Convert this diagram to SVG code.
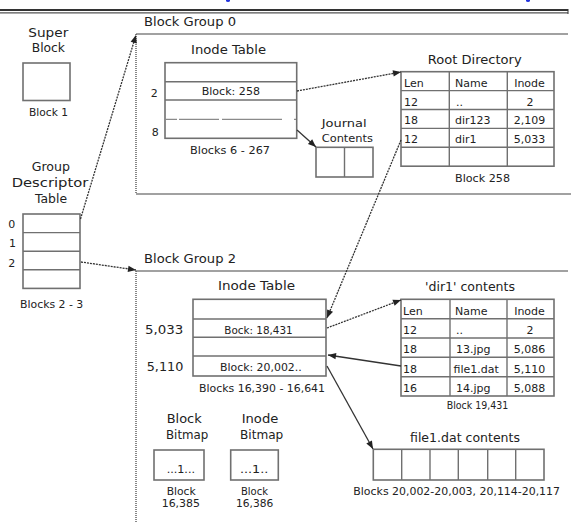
<svg xmlns="http://www.w3.org/2000/svg" width="571" height="522" viewBox="0 0 571 522">
<defs>
<marker id="ah" viewBox="0 0 10 10" refX="10" refY="5" markerWidth="9" markerHeight="8" markerUnits="userSpaceOnUse" orient="auto"><path d="M0,1 L10,5 L0,9 z" fill="#222"/></marker>
<style>
.t{font-family:"DejaVu Sans","Liberation Sans",sans-serif;fill:#222}
.s10{font-size:10px}
.s11{font-size:11px}
.s13{font-size:13px}
.m{text-anchor:middle}
.box{fill:#fff;stroke:#707070;stroke-width:1.6}
.grid{stroke:#707070;stroke-width:1.4;fill:none}
.frame{stroke:#444;stroke-width:1.2;fill:none}
.fl{stroke:#555;stroke-width:1.4;stroke-dasharray:1 1;fill:none}
.arr{stroke:#333;stroke-width:1.3;fill:none;marker-end:url(#ah)}
.dot{stroke-dasharray:2 1}
</style>
</defs>
<rect width="571" height="522" fill="#fff"/>
<g id="header">
<ellipse cx="228" cy="0.5" rx="2" ry="1.5" fill="#2233dd"/>
<ellipse cx="528" cy="0.5" rx="2" ry="1.5" fill="#2233dd"/>
<line x1="0" y1="10" x2="568" y2="10" stroke="#333" stroke-width="2"/>
<line x1="0" y1="12.8" x2="568" y2="12.8" stroke="#555" stroke-width="1.2"/>
<line x1="568" y1="9" x2="568" y2="14" stroke="#333" stroke-width="1"/>
</g>
<g id="super-block">
<text class="t s13" x="28.3" y="36.5" textLength="40" lengthAdjust="spacingAndGlyphs">Super</text>
<text class="t s13" x="31.7" y="52" textLength="33.3" lengthAdjust="spacingAndGlyphs">Block</text>
<rect class="box" x="23" y="63" width="47" height="37.5"/>
<text class="t s11" x="29" y="116" textLength="39" lengthAdjust="spacingAndGlyphs">Block 1</text>
</g>
<g id="group-descriptor-table">
<text class="t s13" x="31.7" y="170.5" textLength="38.3" lengthAdjust="spacingAndGlyphs">Group</text>
<text class="t s13" x="11.7" y="187.3" textLength="76.6" lengthAdjust="spacingAndGlyphs">Descriptor</text>
<text class="t s13" x="35" y="203.3" textLength="32" lengthAdjust="spacingAndGlyphs">Table</text>
<rect class="box" x="23" y="214" width="57" height="74.4"/>
<line class="grid" x1="23" y1="232.6" x2="80" y2="232.6"/>
<line class="grid" x1="23" y1="251.2" x2="80" y2="251.2"/>
<line class="grid" x1="23" y1="269.8" x2="80" y2="269.8"/>
<text class="t s11" x="8.3" y="228.3">0</text>
<text class="t s11" x="9" y="247">1</text>
<text class="t s11" x="8.3" y="267">2</text>
<text class="t s11" x="20" y="308.3" textLength="63.3" lengthAdjust="spacingAndGlyphs">Blocks 2 - 3</text>
</g>
<g id="block-group-0">
<text class="t s13" x="144" y="26" textLength="92" lengthAdjust="spacingAndGlyphs">Block Group 0</text>
<line class="frame" x1="136" y1="34" x2="568" y2="34"/>
<line class="frame" x1="136" y1="194" x2="571" y2="194"/>
<line class="fl" x1="136" y1="34" x2="136" y2="194"/>
</g>
<g id="inode-table-0">
<text class="t s13" x="191" y="54" textLength="75" lengthAdjust="spacingAndGlyphs">Inode Table</text>
<rect class="box" x="165" y="62.7" width="131.7" height="75.6"/>
<line class="grid" x1="165" y1="81.7" x2="296.7" y2="81.7"/>
<line class="grid" x1="165" y1="100" x2="296.7" y2="100"/>
<line x1="165" y1="119.3" x2="296.7" y2="119.3" stroke="#8a8a8a" stroke-width="1.2" stroke-dasharray="12 2 40 3 60"/>
<text class="t s11" x="150.7" y="97.3">2</text>
<text class="t s11" x="151.7" y="136">8</text>
<text class="t s11" x="201.7" y="95" textLength="58.3" lengthAdjust="spacingAndGlyphs">Block: 258</text>
<text class="t s11" x="190" y="154" textLength="80" lengthAdjust="spacingAndGlyphs">Blocks 6 - 267</text>
</g>
<g id="journal">
<text class="t s11" x="321.7" y="127" textLength="45" lengthAdjust="spacingAndGlyphs">Journal</text>
<text class="t s11" x="321.7" y="142" textLength="51.3" lengthAdjust="spacingAndGlyphs">Contents</text>
<rect class="box" x="316" y="147.3" width="57" height="29.7"/>
<line class="grid" x1="344.5" y1="147.3" x2="344.5" y2="177"/>
</g>
<g id="root-directory">
<text class="t s13" x="427.7" y="64" textLength="94" lengthAdjust="spacingAndGlyphs">Root Directory</text>
<rect class="box" x="401" y="71.7" width="153" height="94.5"/>
<line class="grid" x1="401" y1="90.6" x2="554" y2="90.6"/>
<line class="grid" x1="401" y1="109.5" x2="554" y2="109.5"/>
<line class="grid" x1="401" y1="128.4" x2="554" y2="128.4"/>
<line class="grid" x1="401" y1="147.3" x2="554" y2="147.3"/>
<line class="grid" x1="449.3" y1="71.7" x2="449.3" y2="166.2"/>
<line class="grid" x1="507.3" y1="71.7" x2="507.3" y2="166.2"/>
<text class="t s11" x="404" y="86.6">Len</text>
<text class="t s11" x="455" y="86.6">Name</text>
<text class="t s11 m" x="529.5" y="86.6">Inode</text>
<text class="t s11" x="404" y="105.5">12</text>
<text class="t s11" x="456" y="105.5">..</text>
<text class="t s11 m" x="530" y="105.5">2</text>
<text class="t s11" x="404" y="124.4">18</text>
<text class="t s11" x="455" y="124.4">dir123</text>
<text class="t s11 m" x="529.5" y="124.4">2,109</text>
<text class="t s11" x="404" y="143.3">12</text>
<text class="t s11" x="455" y="143.3">dir1</text>
<text class="t s11 m" x="529.5" y="143.3">5,033</text>
<text class="t s11" x="455" y="182" textLength="55" lengthAdjust="spacingAndGlyphs">Block 258</text>
</g>
<g id="block-group-2">
<text class="t s13" x="144" y="263.3" textLength="92" lengthAdjust="spacingAndGlyphs">Block Group 2</text>
<line class="frame" x1="136" y1="271" x2="568" y2="271"/>
<line class="fl" x1="136" y1="271" x2="136" y2="522"/>
</g>
<g id="inode-table-2">
<text class="t s13" x="218" y="290" textLength="77" lengthAdjust="spacingAndGlyphs">Inode Table</text>
<rect class="box" x="193" y="299.3" width="133" height="76.7"/>
<line class="grid" x1="193" y1="319" x2="326" y2="319"/>
<line class="grid" x1="193" y1="337.3" x2="326" y2="337.3"/>
<line class="grid" x1="193" y1="356" x2="326" y2="356"/>
<text class="t s13" x="145" y="334" textLength="38.3" lengthAdjust="spacingAndGlyphs">5,033</text>
<text class="t s13" x="146.7" y="371" textLength="36.6" lengthAdjust="spacingAndGlyphs">5,110</text>
<text class="t s11" x="224.3" y="334" textLength="68.4" lengthAdjust="spacingAndGlyphs">Bock: 18,431</text>
<text class="t s11" x="220" y="371" textLength="81.7" lengthAdjust="spacingAndGlyphs">Block: 20,002..</text>
<text class="t s11" x="199" y="391.7" textLength="126" lengthAdjust="spacingAndGlyphs">Blocks 16,390 - 16,641</text>
</g>
<g id="dir1-contents">
<text class="t s13" x="425" y="290.7" textLength="90" lengthAdjust="spacingAndGlyphs">'dir1' contents</text>
<rect class="box" x="401" y="299.3" width="153" height="96.7"/>
<line class="grid" x1="401" y1="318.7" x2="554" y2="318.7"/>
<line class="grid" x1="401" y1="338" x2="554" y2="338"/>
<line class="grid" x1="401" y1="357.3" x2="554" y2="357.3"/>
<line class="grid" x1="401" y1="376.7" x2="554" y2="376.7"/>
<line class="grid" x1="450" y1="299.3" x2="450" y2="396"/>
<line class="grid" x1="507" y1="299.3" x2="507" y2="396"/>
<text class="t s11" x="403" y="314.7">Len</text>
<text class="t s11" x="455" y="314.7">Name</text>
<text class="t s11 m" x="529.5" y="314.7">Inode</text>
<text class="t s11" x="403" y="334">12</text>
<text class="t s11" x="456" y="334">..</text>
<text class="t s11 m" x="530" y="334">2</text>
<text class="t s11" x="403" y="353.3">18</text>
<text class="t s11" x="456" y="353.3">13.jpg</text>
<text class="t s11 m" x="529.5" y="353.3">5,086</text>
<text class="t s11" x="403" y="372.7">18</text>
<text class="t s11" x="453.5" y="372.7">file1.dat</text>
<text class="t s11 m" x="529.5" y="372.7">5,110</text>
<text class="t s11" x="403" y="392">16</text>
<text class="t s11" x="456" y="392">14.jpg</text>
<text class="t s11 m" x="529.5" y="392">5,088</text>
<text class="t s11" x="446.7" y="409.3" textLength="61.6" lengthAdjust="spacingAndGlyphs">Block 19,431</text>
</g>
<g id="block-bitmap">
<text class="t s13" x="166.7" y="423.3" textLength="35" lengthAdjust="spacingAndGlyphs">Block</text>
<text class="t s13" x="166" y="439.3" textLength="42.3" lengthAdjust="spacingAndGlyphs">Bitmap</text>
<rect class="box" x="154" y="450" width="50" height="30"/>
<text class="t s11" x="166.7" y="473" textLength="28.3" lengthAdjust="spacingAndGlyphs">...1...</text>
<text class="t s10" x="166.7" y="494.7" textLength="29" lengthAdjust="spacingAndGlyphs">Block</text>
<text class="t s10" x="161.7" y="506.7" textLength="38.3" lengthAdjust="spacingAndGlyphs">16,385</text>
</g>
<g id="inode-bitmap">
<text class="t s13" x="241.7" y="423.3" textLength="36.6" lengthAdjust="spacingAndGlyphs">Inode</text>
<text class="t s13" x="240" y="439.3" textLength="43.3" lengthAdjust="spacingAndGlyphs">Bitmap</text>
<rect class="box" x="230.7" y="450" width="47.6" height="30"/>
<text class="t s11" x="240" y="473" textLength="28.3" lengthAdjust="spacingAndGlyphs">...1..</text>
<text class="t s10" x="241" y="494.7" textLength="27" lengthAdjust="spacingAndGlyphs">Block</text>
<text class="t s10" x="236" y="506.7" textLength="37.3" lengthAdjust="spacingAndGlyphs">16,386</text>
</g>
<g id="file1-dat-contents">
<text class="t s13" x="410" y="441.7" textLength="110" lengthAdjust="spacingAndGlyphs">file1.dat contents</text>
<rect class="box" x="373.3" y="449.3" width="170.7" height="30.7"/>
<line class="grid" x1="401.7" y1="449.3" x2="401.7" y2="480"/>
<line class="grid" x1="430" y1="449.3" x2="430" y2="480"/>
<line class="grid" x1="458.3" y1="449.3" x2="458.3" y2="480"/>
<line class="grid" x1="487.7" y1="449.3" x2="487.7" y2="480"/>
<line class="grid" x1="515.7" y1="449.3" x2="515.7" y2="480"/>
<text class="t s11" x="353.3" y="495" textLength="206.7" lengthAdjust="spacingAndGlyphs">Blocks 20,002-20,003, 20,114-20,117</text>
</g>
<g id="connectors">
<line class="arr dot" x1="80.5" y1="219" x2="136" y2="35"/>
<line class="arr dot" x1="81" y1="262" x2="136" y2="270"/>
<line class="arr dot" x1="297" y1="91" x2="401" y2="72"/>
<line class="arr" x1="297" y1="130" x2="316" y2="147"/>
<line class="arr dot" x1="401" y1="140" x2="327" y2="318"/>
<line class="arr dot" x1="327" y1="328" x2="401" y2="300"/>
<line class="arr" x1="401" y1="366" x2="328" y2="355"/>
<line class="arr" x1="327" y1="366" x2="373" y2="449"/>
</g>
</svg>
